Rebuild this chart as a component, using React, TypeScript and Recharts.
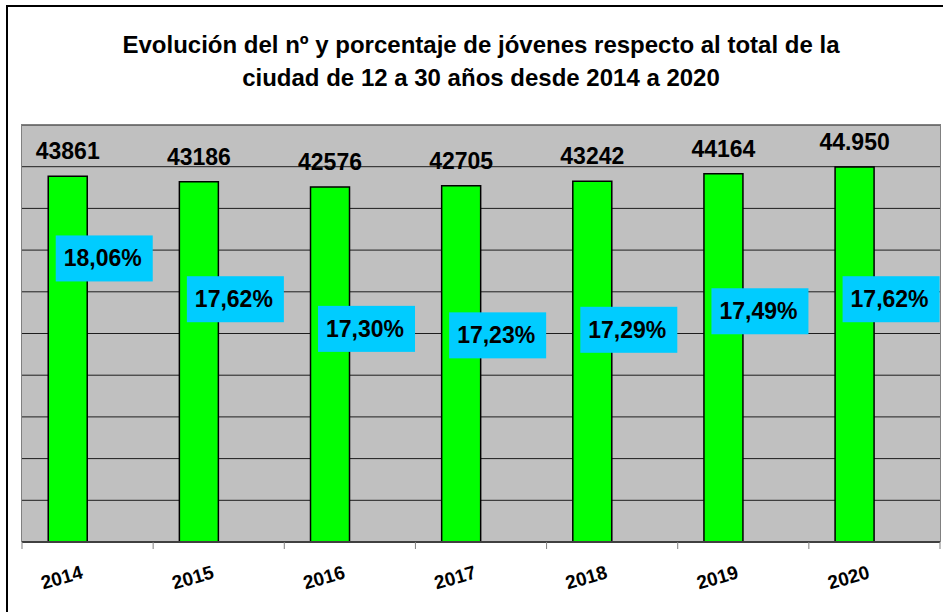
import { BarChart, Bar, XAxis, YAxis, CartesianGrid, LabelList } from 'recharts'

// chart data
const years = ['2014', '2015', '2016', '2017', '2018', '2019', '2020']
const jovenes = [43861, 43186, 42576, 42705, 43242, 44164, 44950]
const jovenesLabels = ['43861', '43186', '42576', '42705', '43242', '44164', '44.950']
const porcentajes = [18.06, 17.62, 17.3, 17.23, 17.29, 17.49, 17.62]
const countTicks = [0, 5000, 10000, 15000, 20000, 25000, 30000, 35000, 40000, 45000]

const data = years.map((year, i) => ({
  year,
  jovenes: jovenes[i],
  porcentaje: porcentajes[i],
}))

const FONT = 'Arial, "Liberation Sans", Helvetica, sans-serif'
const W = 943
const H = 612
const PLOT = { left: 22, top: 125, right: 940, bottom: 542 }
const BAND = (PLOT.right - PLOT.left) / years.length

const ValueLabel = (props: any) => {
  const { x, y, width, index } = props
  return (
    <text
      x={x + width / 2}
      y={y - 17}
      textAnchor="middle"
      fontSize={23}
      fontWeight="bold"
      fontFamily={FONT}
      fill="#000"
    >
      {jovenesLabels[index]}
    </text>
  )
}

const PctLabel = (props: any) => {
  const { x, y, width, value } = props
  const cx = x + width / 2 - 3
  const text = Number(value).toFixed(2).replace('.', ',') + '%'
  return (
    <g>
      <rect x={cx - 48} y={y - 23} width={97} height={46} fill="#00CCFF" />
      <text
        x={cx - 1}
        y={y + 8}
        textAnchor="middle"
        fontSize={23}
        fontWeight="bold"
        fontFamily={FONT}
        fill="#000"
      >
        {text}
      </text>
    </g>
  )
}

const YearTick = (props: any) => {
  const { x, y, payload, index } = props
  const lx = x - BAND / 2
  const tx = x - 26
  const ty = y + 34
  return (
    <g>
      <line x1={lx} y1={y - 8} x2={lx} y2={y - 1} stroke="#808080" strokeWidth={1} />
      {index === years.length - 1 && (
        <line x1={lx + BAND} y1={y - 8} x2={lx + BAND} y2={y - 1} stroke="#808080" strokeWidth={1} />
      )}
      <text
        x={tx}
        y={ty}
        textAnchor="middle"
        fontSize={19}
        fontWeight="bold"
        fontFamily={FONT}
        fill="#000"
        transform={`rotate(-16 ${tx} ${ty - 7})`}
      >
        {payload.value}
      </text>
    </g>
  )
}

export default function App() {
  return (
    <div
      style={{
        position: 'absolute',
        left: 0,
        top: 0,
        width: W,
        height: H,
        background: '#fff',
        overflow: 'hidden',
      }}
    >
      {/* outer frame */}
      <div
        style={{
          position: 'absolute',
          left: 6,
          top: 5,
          width: W + 20,
          height: H + 20,
          border: '2px solid #000',
        }}
      />
      <div
        style={{
          position: 'absolute',
          left: 0,
          top: 28,
          width: 962,
          textAlign: 'center',
          fontFamily: FONT,
          fontWeight: 'bold',
          fontSize: 24,
          lineHeight: '33px',
          color: '#000',
        }}
      >
        Evolución del nº y porcentaje de jóvenes respecto al total de la
        <br />
        ciudad de 12 a 30 años desde 2014 a 2020
      </div>
      <div style={{ position: 'absolute', left: 0, top: 0 }}>
        <BarChart
          width={W}
          height={H}
          data={data}
          margin={{ left: PLOT.left, top: PLOT.top, right: W - PLOT.right, bottom: 10 }}
          barCategoryGap="20%"
          barGap={0}
        >
          <CartesianGrid
            yAxisId="left"
            vertical={false}
            fill="#C0C0C0"
            fillOpacity={1}
            stroke="#000"
            strokeOpacity={0.85}
          />
          <XAxis
            dataKey="year"
            height={60}
            interval={0}
            tickLine={false}
            axisLine={{ stroke: '#404040', strokeWidth: 2 }}
            tick={<YearTick />}
          />
          <YAxis yAxisId="left" hide domain={[0, 50000]} ticks={countTicks} />
          <YAxis yAxisId="right" hide orientation="right" domain={[15, 19.5]} />
          <Bar
            yAxisId="left"
            dataKey="jovenes"
            fill="#00FF00"
            stroke="#000"
            strokeWidth={1.5}
            isAnimationActive={false}
          >
            <LabelList dataKey="jovenes" content={<ValueLabel />} />
          </Bar>
          <Bar
            yAxisId="right"
            dataKey="porcentaje"
            fill="none"
            stroke="none"
            isAnimationActive={false}
          >
            <LabelList dataKey="porcentaje" content={<PctLabel />} />
          </Bar>
        </BarChart>
      </div>
      {/* plot area border */}
      <div
        style={{
          position: 'absolute',
          left: PLOT.left - 1,
          top: PLOT.top - 1,
          width: PLOT.right - PLOT.left,
          height: PLOT.bottom - PLOT.top,
          border: '1px solid #808080',
          borderBottom: 'none',
          pointerEvents: 'none',
        }}
      />
    </div>
  )
}
